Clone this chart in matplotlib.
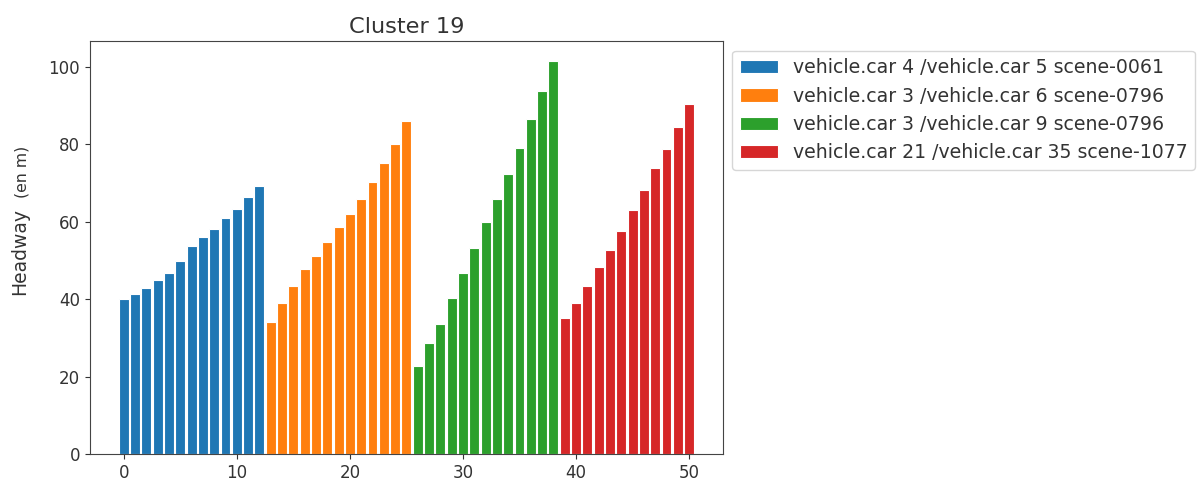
import numpy as np
import matplotlib
matplotlib.use("Agg")
import matplotlib.pyplot as plt

# headway values (m)
car4_car5 = [40.0, 41.3, 42.8, 44.9, 46.8, 49.8, 53.7, 56.1, 58.1, 61.0, 63.4, 66.4, 69.3]
car3_car6 = [34.0, 38.9, 43.3, 47.7, 51.2, 54.7, 58.6, 62.0, 65.9, 70.3, 75.2, 80.1, 86.0]
car3_car9 = [22.7, 28.6, 33.5, 40.4, 46.7, 53.2, 60.0, 65.9, 72.3, 79.1, 86.5, 93.8, 101.6]
car21_car35 = [35.1, 38.9, 43.3, 48.2, 52.6, 57.5, 63.0, 68.3, 73.8, 78.7, 84.5, 90.4]

labels = [
    "vehicle.car 4 /vehicle.car 5 scene-0061",
    "vehicle.car 3 /vehicle.car 6 scene-0796",
    "vehicle.car 3 /vehicle.car 9 scene-0796",
    "vehicle.car 21 /vehicle.car 35 scene-1077",
]
series = [car4_car5, car3_car6, car3_car9, car21_car35]
colors = ["#1f77b4", "#ff7f0e", "#2ca02c", "#d62728"]

fig = plt.figure(figsize=(12.01, 4.88), dpi=100)
ax = fig.add_axes([0.0749, 0.0697, 0.527, 0.846])

start = 0
for vals, lab, col in zip(series, labels, colors):
    x = np.arange(start, start + len(vals))
    ax.bar(x, vals, width=0.88, color=col, edgecolor="white", linewidth=0.8, label=lab)
    start += len(vals)

ax.tick_params(labelsize=12, colors="#333333", labelcolor="#333333")
for s in ax.spines.values():
    s.set_color("#444444")

ax.set_title("Cluster 19", fontsize=16.2, color="#333333")
# y label: "Headway" larger, units smaller (as in the original)
ax.text(-0.111, 0.49, "Headway", transform=ax.transAxes, rotation=90,
        ha="center", va="center", fontsize=13.5, color="#333333")
ax.text(-0.107, 0.684, "(en m)", transform=ax.transAxes, rotation=90,
        ha="center", va="center", fontsize=11.3, color="#333333")

leg = ax.legend(loc="upper left", bbox_to_anchor=(1.0, 1.0), fontsize=13.6)
for t in leg.get_texts():
    t.set_color("#333333")

fig.savefig("out.png", dpi=100)
